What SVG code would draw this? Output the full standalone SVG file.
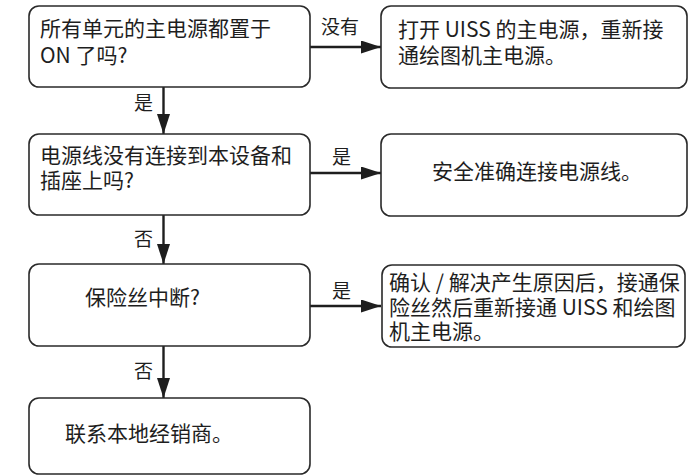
<svg xmlns="http://www.w3.org/2000/svg" width="699" height="476" viewBox="0 0 699 476">
<style>
.box{fill:#fff;stroke:#2a2a2a;stroke-width:1.6}
.t{font-family:"Noto Sans CJK SC","Noto Sans",sans-serif;font-size:21px;fill:#1e1e1e}
.l{font-family:"Noto Sans CJK SC","Noto Sans",sans-serif;font-size:19px;fill:#1e1e1e}
.c{stroke:#1e1e1e;stroke-width:2.4;fill:none}
</style>
<defs>
<marker id="ah" markerUnits="userSpaceOnUse" markerWidth="22" markerHeight="14" refX="20" refY="6.5" orient="auto">
<path d="M0,0 L20,6.5 L0,13 Z" fill="#1e1e1e"/>
</marker>
</defs>
<rect width="699" height="476" fill="#fff"/>
<g id="connectors">
<line class="c" x1="310" y1="47" x2="381" y2="47" marker-end="url(#ah)"/>
<line class="c" x1="310" y1="173" x2="381" y2="173" marker-end="url(#ah)"/>
<line class="c" x1="310" y1="306" x2="381" y2="306" marker-end="url(#ah)"/>
<line class="c" x1="163.5" y1="87" x2="163.5" y2="134" marker-end="url(#ah)"/>
<line class="c" x1="163.5" y1="215" x2="163.5" y2="264" marker-end="url(#ah)"/>
<line class="c" x1="163.5" y1="346" x2="163.5" y2="398" marker-end="url(#ah)"/>
<text class="l" x="321" y="34">没有</text>
<text class="l" x="134" y="110">是</text>
<text class="l" x="332" y="164">是</text>
<text class="l" x="134" y="246">否</text>
<text class="l" x="332" y="298">是</text>
<text class="l" x="134" y="378">否</text>
</g>
<g id="n1">
<rect class="box" x="29" y="6" width="281" height="81" rx="10"/>
<text class="t" x="40" y="36">所有单元的主电源都置于</text>
<text class="t" x="40" y="63">ON 了吗?</text>
</g>
<g id="n2">
<rect class="box" x="381" y="6" width="306" height="82" rx="10"/>
<text class="t" x="398" y="37">打开 UISS 的主电源，重新接</text>
<text class="t" x="398" y="63">通绘图机主电源。</text>
</g>
<g id="n3">
<rect class="box" x="29" y="134" width="281" height="81" rx="10"/>
<text class="t" x="40" y="163">电源线没有连接到本设备和</text>
<text class="t" x="40" y="188">插座上吗?</text>
</g>
<g id="n4">
<rect class="box" x="381" y="134" width="306" height="82" rx="10"/>
<text class="t" x="432" y="179">安全准确连接电源线。</text>
</g>
<g id="n5">
<rect class="box" x="29" y="264" width="281" height="82" rx="10"/>
<text class="t" x="85" y="305">保险丝中断?</text>
</g>
<g id="n6">
<rect class="box" x="382" y="265" width="303" height="82" rx="10"/>
<text class="t" x="389" y="290">确认 / 解决产生原因后，接通保</text>
<text class="t" x="389" y="315">险丝然后重新接通 UISS 和绘图</text>
<text class="t" x="389" y="339">机主电源。</text>
</g>
<g id="n7">
<rect class="box" x="29" y="398" width="281" height="76" rx="10"/>
<text class="t" x="65" y="441">联系本地经销商。</text>
</g>
</svg>
